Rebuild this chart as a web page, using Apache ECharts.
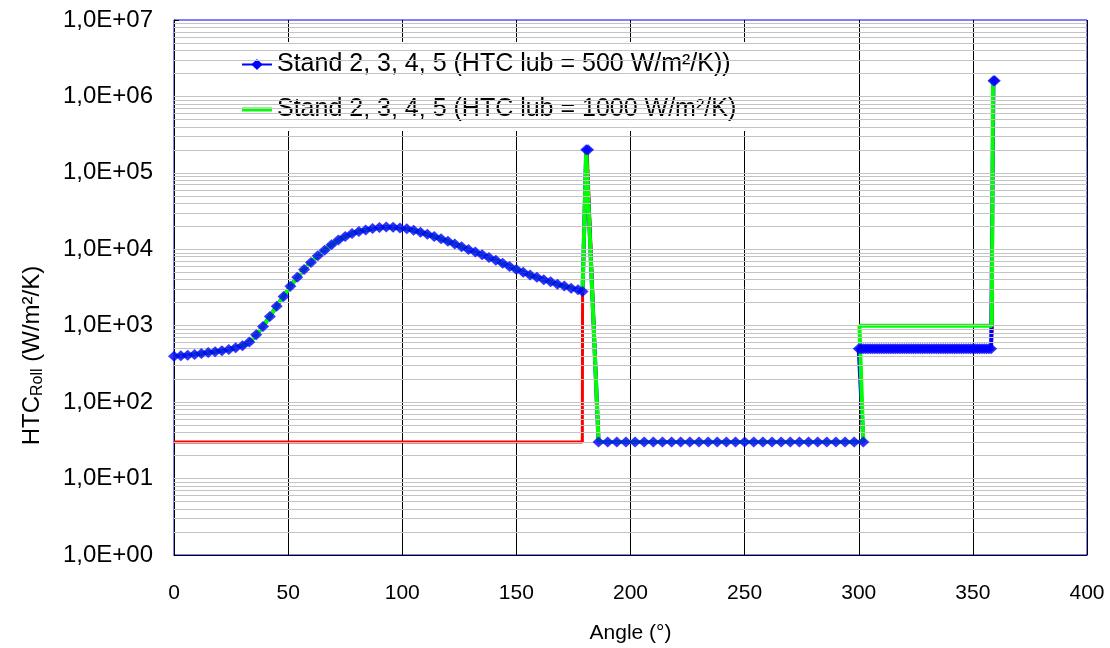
<!DOCTYPE html>
<html>
<head>
<meta charset="utf-8">
<script src="https://cdn.jsdelivr.net/npm/echarts@6/dist/echarts.min.js"></script>
<style>
  html, body { margin: 0; padding: 0; background: #fff; }
  #root { width: 1110px; height: 648px; }
</style>
</head>
<body>
<div id="root"></div>
<script>
// rising/falling part of the curve (both series share it)
const curveAngle = [0, 3, 6, 9, 12, 15, 18, 21, 24, 27, 30, 33, 36, 39, 42, 45, 48, 51, 54, 57,
  60, 63, 66, 69, 72, 75, 78, 81, 84, 87, 90, 93, 96, 99, 102, 105, 108, 111, 114, 117,
  120, 123, 126, 129, 132, 135, 138, 141, 144, 147, 150, 153, 156, 159, 162, 165, 168, 171, 174, 177, 179];
const curveHtc = [400, 405, 410, 420, 432, 445, 458, 470, 490, 515, 545, 610, 760, 980, 1320, 1800, 2420, 3280, 4300, 5450,
  6700, 8200, 9700, 11500, 13200, 14700, 16100, 17100, 17900, 18700, 19300, 19500, 19400, 19000, 18500, 17700, 16700, 15700, 14700, 13700,
  12700, 11700, 10800, 9900, 9200, 8500, 7800, 7200, 6550, 5950, 5450, 5000, 4600, 4300, 4000, 3750, 3500, 3300, 3100, 2950, 2800];

const peakAngle = [180.6, 181.4];
const peakHtc = [200000, 200000];

const flatAngle = [186, 190, 194, 198, 202, 206, 210, 214, 218, 222, 226, 230, 234, 238, 242,
  246, 250, 254, 258, 262, 266, 270, 274, 278, 282, 286, 290, 294, 298, 302];
const flatHtc = [30, 30, 30, 30, 30, 30, 30, 30, 30, 30, 30, 30, 30, 30, 30,
  30, 30, 30, 30, 30, 30, 30, 30, 30, 30, 30, 30, 30, 30, 30];

// lubricated zone, HTC lub = 500
const lub500Angle = [300, 301, 302, 303, 304, 305, 306, 307, 308, 309, 310, 311, 312, 313, 314,
  315, 316, 317, 318, 319, 320, 321, 322, 323, 324, 325, 326, 327, 328, 329,
  330, 331, 332, 333, 334, 335, 336, 337, 338, 339, 340, 341, 342, 343, 344,
  345, 346, 347, 348, 349, 350, 351, 352, 353, 354, 355, 356, 357, 358, 359, 359.6];
const lub500Htc = [500, 500, 500, 500, 500, 500, 500, 500, 500, 500, 500, 500, 500, 500, 500,
  500, 500, 500, 500, 500, 500, 500, 500, 500, 500, 500, 500, 500, 500, 500,
  500, 500, 500, 500, 500, 500, 500, 500, 500, 500, 500, 500, 500, 500, 500,
  500, 500, 500, 500, 500, 500, 500, 500, 500, 500, 500, 500, 500, 500, 1600000, 1600000];

// lubricated zone, HTC lub = 1000
const lub1000Angle = [300.3, 358.3, 358.8];
const lub1000Htc = [1000, 1000, 1600000];

// red reference line
const redAngle = [0, 178.9, 179, 181, 186, 302, 300.3, 358, 358.6, 358.6];
const redHtc = [30, 30, 2800, 200000, 30, 30, 500, 500, 1000, 1600000];

const name500 = "Stand 2, 3, 4, 5 (HTC lub = 500 W/m²/K))";
const name1000 = "Stand 2, 3, 4, 5 (HTC lub = 1000 W/m²/K)";

const zip = (xs, ys) => xs.map((x, i) => [x, ys[i]]);
const common = zip(curveAngle, curveHtc).concat(zip(peakAngle, peakHtc), zip(flatAngle, flatHtc));
const blueData = common.concat(zip(lub500Angle, lub500Htc));
const greenData = common.concat(zip(lub1000Angle, lub1000Htc));
const redData = zip(redAngle, redHtc);

// log-spaced gridlines (m x 10^k)
const gridVals = [];
for (let k = 0; k < 7; k++) {
  for (let m = 1; m <= 9; m++) {
    if (k === 0 && m === 1) continue;
    gridVals.push(m * Math.pow(10, k));
  }
}

const chart = echarts.init(document.getElementById("root"));
const font = "Liberation Sans, Arial, sans-serif";

chart.setOption({
  backgroundColor: "#ffffff",
  animation: false,
  textStyle: { fontFamily: font, color: "#000" },
  grid: {
    left: 174, right: 23, top: 20, bottom: 93,
    outerBoundsMode: "none", containLabel: false,
    show: true, borderColor: "#0000ff", borderWidth: 1, backgroundColor: "#fff"
  },
  legend: {
    left: 228, top: 42,
    orient: "vertical",
    data: [
      name500,
      { name: name1000, icon: "path://M0,0L30,0L30,4L0,4Z" }
    ],
    symbolKeepAspect: true,
    backgroundColor: "#fff",
    padding: [10, 10, 9, 13],
    itemWidth: 30, itemHeight: 14, itemGap: 20,
    textStyle: { fontSize: 25, color: "#000", fontFamily: font }
  },
  xAxis: {
    type: "value", min: 0, max: 400, interval: 50,
    name: "Angle (°)", nameLocation: "middle", nameGap: 68,
    nameTextStyle: { fontSize: 21, color: "#000", fontFamily: font },
    axisLine: { lineStyle: { color: "#000", width: 1 } },
    axisTick: { show: false },
    axisLabel: { fontSize: 21, color: "#000", margin: 28, fontFamily: font },
    splitLine: { show: true, lineStyle: { color: "#000", width: 1 } }
  },
  yAxis: {
    type: "log", logBase: 10, min: 1, max: 10000000,
    name: "{a|HTC}{b|Roll}{a| (W/m²/K)}", nameLocation: "middle", nameGap: 128,
    nameTextStyle: {
      color: "#000", fontFamily: font, padding: [0, 136, 0, 0],
      rich: {
        a: { fontSize: 24, color: "#000", fontFamily: font },
        b: { fontSize: 16, color: "#000", fontFamily: font, padding: [12, 0, 0, 0] }
      }
    },
    axisLine: { show: true, lineStyle: { color: "#000", width: 1 } },
    axisTick: { show: true, inside: true, length: 5, lineStyle: { color: "#000" } },
    axisLabel: {
      fontSize: 24, color: "#000", margin: 21, fontFamily: font,
      formatter: (v) => "1,0E+" + String(Math.round(Math.log10(v))).padStart(2, "0")
    },
    splitLine: { show: false }
  },
  series: [
    {
      name: "grid", type: "line", data: [], z: 0, silent: true,
      markLine: {
        silent: true, symbol: "none", label: { show: false },
        lineStyle: { color: "#c4c4c4", width: 1, type: "solid" },
        data: gridVals.map((v) => ({ yAxis: v }))
      }
    },
    {
      name: "red", type: "line", data: redData, z: 2, symbol: "none",
      lineStyle: { color: "#ff0000", width: 3 }, itemStyle: { color: "#ff0000" }
    },
    {
      name: name500, type: "line", data: blueData, z: 3,
      symbol: "diamond", symbolSize: 9, showSymbol: false,
      lineStyle: { color: "#0000ff", width: 4 }, itemStyle: { color: "#0000ff" }
    },
    {
      name: name1000, type: "line", data: greenData, z: 4, symbol: "none",
      lineStyle: { color: "#00ff00", width: 4 }, itemStyle: { color: "#00ff00" }
    },
    {
      name: "markers", type: "scatter", data: blueData, z: 5,
      symbol: "diamond", symbolSize: [12, 11], itemStyle: { color: "#0000ff" }
    }
  ]
});
</script>
</body>
</html>
